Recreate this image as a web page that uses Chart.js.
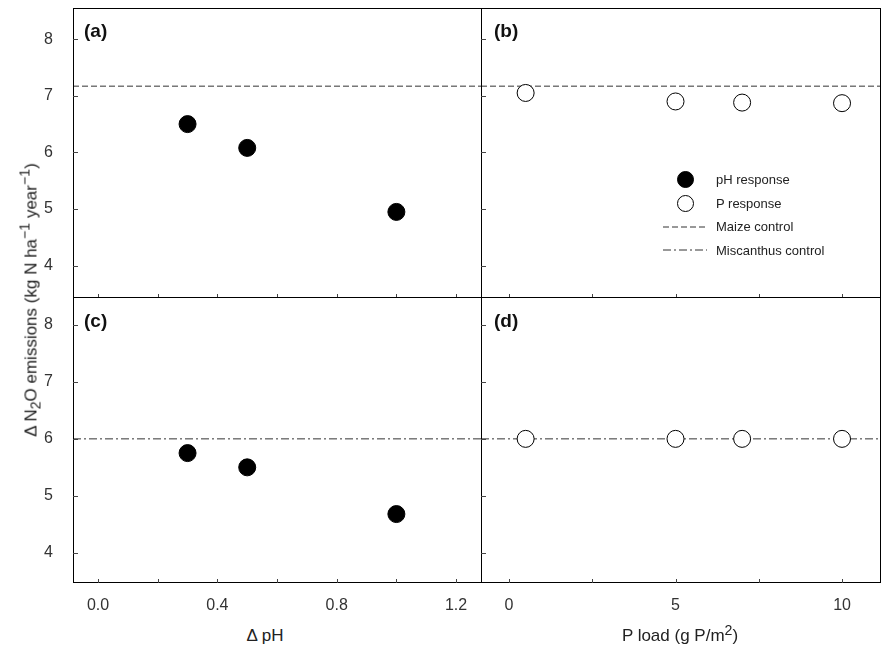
<!DOCTYPE html>
<html>
<head>
<meta charset="utf-8">
<script src="https://cdn.jsdelivr.net/npm/chart.js@4"></script>
<style>
  body { margin: 0; background: #fff; font-family: "Liberation Sans", Arial, sans-serif; }
  #wrap { position: relative; width: 883px; height: 648px; overflow: hidden; }
  canvas { position: absolute; }
  .lbl { position: absolute; font-weight: bold; font-size: 19px; color: #111; }
  .title { position: absolute; font-size: 17px; color: #222; white-space: nowrap; transform: translate(-50%, -50%); }
  #ytitle { left: 30px; top: 300px; transform: translate(-50%, -50%) rotate(-90deg); }
  .legend { position: absolute; left: 660px; top: 168px; font-size: 13px; color: #222; }
  .legend div { height: 23.5px; display: flex; align-items: center; }
  .sym { width: 50px; display: flex; justify-content: center; align-items: center; margin-right: 6px; }
  .dot { width: 17px; height: 17px; border-radius: 50%; border: 1px solid #000; box-sizing: border-box; }
</style>
</head>
<body>
<div id="wrap">
  <canvas id="ca"></canvas>
  <canvas id="cb"></canvas>
  <canvas id="cc"></canvas>
  <canvas id="cd"></canvas>
  <div class="lbl" style="left:84px;top:20px">(a)</div>
  <div class="lbl" style="left:494px;top:20px">(b)</div>
  <div class="lbl" style="left:84px;top:310px">(c)</div>
  <div class="lbl" style="left:494px;top:310px">(d)</div>
  <div class="title" id="ytitle">&Delta; N<sub>2</sub>O emissions (kg N ha<sup>&minus;1</sup> year<sup>&minus;1</sup>)</div>
  <div class="title" style="left:265px;top:636px">&Delta; pH</div>
  <div class="title" style="left:680px;top:634px">P load (g P/m<sup>2</sup>)</div>
  <div class="legend">
    <div><span class="sym"><span class="dot" style="background:#000"></span></span>pH response</div>
    <div><span class="sym"><span class="dot" style="background:#fff"></span></span>P response</div>
    <div><span class="sym"><svg width="44" height="4"><line x1="0" y1="2" x2="44" y2="2" stroke="#333" stroke-dasharray="6,3"/></svg></span>Maize control</div>
    <div><span class="sym"><svg width="44" height="4"><line x1="0" y1="2" x2="44" y2="2" stroke="#333" stroke-dasharray="8,3,2,3"/></svg></span>Miscanthus control</div>
  </div>
</div>
<script>
// data
const deltaPH = [0.3, 0.5, 1.0];
const pLoad = [0.5, 5, 7, 10];
const phTop = [6.5, 6.08, 4.95];
const pTop = [7.05, 6.9, 6.88, 6.87];
const phBottom = [5.75, 5.5, 4.68];
const pBottom = [6.0, 6.0, 6.0, 6.0];
const maizeControl = 7.17;
const miscanthusControl = 6.0;
const yTicks = [4, 5, 6, 7, 8];
const phTicks = [0.0, 0.4, 0.8, 1.2];
const pTicks = [0, 5, 10];

const TOP_Y = [3.43, 8.55], BOT_Y = [3.47, 8.49];
const PH_MIN = -0.084, PH_MAX = 1.287;
const P_MIN = -0.84, P_MAX = 11.17;

const AXIS_W = 33, AXIS_H = 36;

// panel border and inward tick marks
const boxPlugin = {
  id: 'box',
  afterDraw(chart) {
    const a = chart.chartArea, ctx = chart.ctx;
    const xs = chart.scales.x, ys = chart.scales.y;
    ctx.save();
    ctx.strokeStyle = '#000';
    ctx.lineWidth = 1;
    ctx.strokeRect(a.left + 0.5, a.top + 0.5, a.right - a.left - 1, a.bottom - a.top - 1);
    ctx.strokeStyle = '#444';
    ctx.beginPath();
    yTicks.forEach(v => {
      const y = Math.round(ys.getPixelForValue(v)) + 0.5;
      ctx.moveTo(a.left, y); ctx.lineTo(a.left + 5, y);
    });
    const step = chart.options.xStep;
    for (let v = 0; v <= xs.max; v += step / 2) {
      const x = Math.round(xs.getPixelForValue(v)) + 0.5;
      ctx.moveTo(x, a.bottom); ctx.lineTo(x, a.bottom - 4);
    }
    ctx.stroke();
    ctx.restore();
  }
};

// plot area given as left, top, width, height; canvas grows by the axis bands
function makeChart(id, pl, pt, pw, ph, opts) {
  const c = document.getElementById(id);
  c.style.left = (pl - AXIS_W) + 'px';
  c.style.top = pt + 'px';
  c.width = pw + AXIS_W; c.height = ph + AXIS_H;
  const pts = opts.xs.map((x, i) => ({ x: x, y: opts.ys[i] }));
  const ctrl = [{ x: opts.xMin, y: opts.ctrl }, { x: opts.xMax, y: opts.ctrl }];
  new Chart(c, {
    type: 'scatter',
    data: {
      datasets: [
        {
          type: 'line', data: ctrl, borderColor: '#333', borderWidth: 1,
          borderDash: opts.dash, pointRadius: 0, order: 2
        },
        {
          data: pts, pointRadius: 8.5, pointBackgroundColor: opts.fill,
          pointBorderColor: '#000', pointBorderWidth: 1, order: 1
        }
      ]
    },
    options: {
      responsive: false, animation: false,
      xStep: opts.xStep,
      layout: { padding: 0, autoPadding: false },
      plugins: { legend: { display: false }, tooltip: { enabled: false } },
      scales: {
        x: {
          type: 'linear', min: opts.xMin, max: opts.xMax,
          afterBuildTicks: s => { s.ticks = opts.xTicks.map(v => ({ value: v })); },
          afterFit: s => { s.height = AXIS_H; s.paddingLeft = 0; s.paddingRight = 0; },
          grid: { display: false },
          border: { display: false },
          ticks: {
            color: opts.showX ? '#333' : 'rgba(0,0,0,0)', padding: 5,
            font: { size: 16, family: 'Liberation Sans' },
            callback: v => opts.xFmt(v)
          }
        },
        y: {
          min: opts.yRange[0], max: opts.yRange[1],
          afterBuildTicks: s => { s.ticks = yTicks.map(v => ({ value: v })); },
          afterFit: s => { s.width = AXIS_W; s.paddingTop = 0; s.paddingBottom = 0; },
          grid: { display: false },
          border: { display: false },
          ticks: {
            color: opts.showY ? '#333' : 'rgba(0,0,0,0)', padding: 12,
            font: { size: 16, family: 'Liberation Sans' }
          }
        }
      }
    },
    plugins: [boxPlugin]
  });
}

const phFmt = v => v.toFixed(1);
const pFmt = v => String(v);

// draw bottom panels first so top panels' empty axis bands sit over them harmlessly
makeChart('cc', 73, 297, 409, 286, { xs: deltaPH, ys: phBottom, fill: '#000', ctrl: miscanthusControl, dash: [8, 3, 2, 3],
  yRange: BOT_Y, xMin: PH_MIN, xMax: PH_MAX, xTicks: phTicks, xStep: 0.4, xFmt: phFmt, showX: true, showY: true });
makeChart('cd', 481, 297, 400, 286, { xs: pLoad, ys: pBottom, fill: '#fff', ctrl: miscanthusControl, dash: [8, 3, 2, 3],
  yRange: BOT_Y, xMin: P_MIN, xMax: P_MAX, xTicks: pTicks, xStep: 5, xFmt: pFmt, showX: true, showY: false });
makeChart('ca', 73, 8, 409, 290, { xs: deltaPH, ys: phTop, fill: '#000', ctrl: maizeControl, dash: [6, 3],
  yRange: TOP_Y, xMin: PH_MIN, xMax: PH_MAX, xTicks: phTicks, xStep: 0.4, xFmt: phFmt, showX: false, showY: true });
makeChart('cb', 481, 8, 400, 290, { xs: pLoad, ys: pTop, fill: '#fff', ctrl: maizeControl, dash: [6, 3],
  yRange: TOP_Y, xMin: P_MIN, xMax: P_MAX, xTicks: pTicks, xStep: 5, xFmt: pFmt, showX: false, showY: false });
</script>
</body>
</html>
